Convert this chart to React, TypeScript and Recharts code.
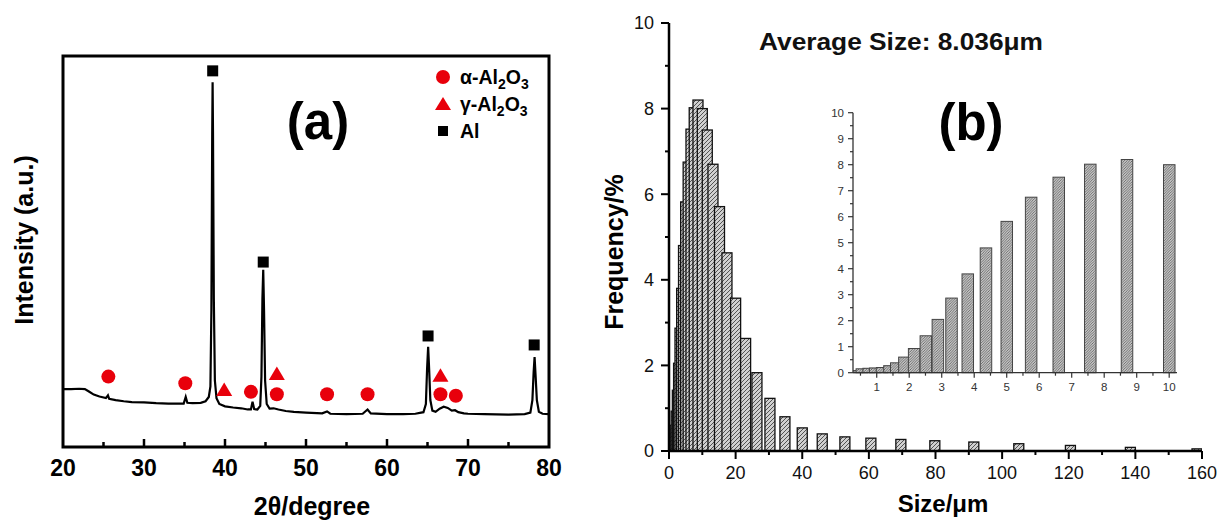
import React from 'react';
import { ComposedChart, Line, Scatter, XAxis, YAxis, ReferenceArea, BarChart, Bar } from 'recharts';

// ---------- (a) XRD pattern ----------
const twoTheta = [20.0, 21.0, 22.0, 22.7, 23.2, 23.8, 24.5, 25.3, 25.55, 25.7, 26.5, 27.5, 28.5, 30.0, 31.5, 33.0, 34.0, 34.9, 35.15, 35.35, 36.0, 37.0, 37.6, 38.0, 38.2, 38.32, 38.42, 38.47, 38.52, 38.62, 38.75, 38.95, 39.3, 40.0, 41.0, 42.0, 42.8, 43.2, 43.4, 43.6, 44.0, 44.35, 44.5, 44.62, 44.72, 44.82, 44.95, 45.15, 45.5, 46.0, 46.6, 47.5, 48.5, 50.0, 52.0, 52.6, 53.0, 55.0, 57.0, 57.6, 58.0, 60.0, 62.0, 63.5, 64.5, 64.8, 64.95, 65.08, 65.2, 65.35, 65.6, 66.0, 66.5, 67.0, 67.5, 68.0, 68.4, 68.8, 69.5, 70.0, 72.0, 75.0, 77.0, 77.7, 77.95, 78.1, 78.22, 78.35, 78.5, 78.75, 79.2, 80.0];
const intensity = [14.8, 14.8, 14.9, 14.8, 14.2, 13.4, 12.9, 12.5, 13.2, 12.3, 12.0, 11.7, 11.5, 11.4, 11.2, 11.1, 11.1, 11.1, 12.8, 11.3, 11.2, 11.3, 11.7, 12.8, 15.5, 35, 80, 93.3, 80, 38, 17, 12.5, 11.0, 10.4, 10.1, 9.9, 9.6, 9.6, 11.6, 9.7, 9.6, 10.5, 18, 38, 45.3, 35, 17, 11, 9.8, 9.9, 9.6, 9.2, 9.0, 8.8, 8.6, 9.1, 8.5, 8.4, 8.5, 9.6, 8.6, 8.4, 8.4, 8.5, 8.9, 11, 20, 25.6, 20, 12, 9.3, 9.0, 9.8, 10.3, 10.0, 9.3, 9.4, 8.9, 8.6, 8.5, 8.4, 8.3, 8.4, 8.8, 12, 19, 23.0, 18, 12, 9.0, 8.5, 8.4];

const alphaTheta = [25.6, 35.1, 43.2, 46.4, 52.6, 57.6, 66.6, 68.5];
const alphaMark = [18.0, 16.3, 14.1, 13.5, 13.5, 13.5, 13.5, 13.1];
const gammaTheta = [39.9, 46.4, 66.6];
const gammaMark = [14.6, 18.7, 18.2];
const alTheta = [38.48, 44.72, 65.07, 78.17];
const alMark = [96.2, 47.3, 28.4, 26.1];

const xrdTicks = [20, 25, 30, 35, 40, 45, 50, 55, 60, 65, 70, 75, 80];
const xrdLabels = [20, 30, 40, 50, 60, 70, 80];

// ---------- (b) size distribution ----------
const sizeUm = [0.39, 0.54, 0.75, 0.95, 1.16, 1.39, 1.6, 1.85, 2.15, 2.51, 2.88, 3.3, 3.8, 4.36, 5.0, 5.75, 6.6, 7.57, 8.7, 10.0, 11.49, 13.2, 15.16, 17.4, 20.0, 23.0, 26.4, 30.3, 34.8, 40.0, 46.0, 52.8, 60.6, 69.6, 79.8, 91.5, 105.0, 120.5, 138.5, 158.5];
const freqPct = [0.08, 0.15, 0.17, 0.18, 0.2, 0.27, 0.38, 0.6, 0.93, 1.42, 2.05, 2.87, 3.8, 4.8, 5.82, 6.75, 7.52, 8.02, 8.2, 8.0, 7.5, 6.7, 5.71, 4.63, 3.57, 2.63, 1.83, 1.23, 0.8, 0.54, 0.4, 0.33, 0.3, 0.27, 0.24, 0.21, 0.17, 0.13, 0.085, 0.05];

const sizeTicks = [0, 10, 20, 30, 40, 50, 60, 70, 80, 90, 100, 110, 120, 130, 140, 150, 160];
const sizeLabels = [0, 20, 40, 60, 80, 100, 120, 140, 160];
const freqTicks = [0, 1, 2, 3, 4, 5, 6, 7, 8, 9, 10];
const freqLabels = [0, 2, 4, 6, 8, 10];
const insetXTicks = [0.5, 1, 1.5, 2, 2.5, 3, 3.5, 4, 4.5, 5, 5.5, 6, 6.5, 7, 7.5, 8, 8.5, 9, 9.5, 10];
const insetXLabels = [1, 2, 3, 4, 5, 6, 7, 8, 9, 10];
const insetYTicks = [0, 0.5, 1, 1.5, 2, 2.5, 3, 3.5, 4, 4.5, 5, 5.5, 6, 6.5, 7, 7.5, 8, 8.5, 9, 9.5, 10];
const insetYLabels = [0, 1, 2, 3, 4, 5, 6, 7, 8, 9, 10];
const insetMax = 10.2;

const FONT = '"Liberation Sans", Arial, sans-serif';
const RED = '#e8000b';

const xrdData = twoTheta.map((t, i) => ({ x: t, v: intensity[i] }));
const alphaData = alphaTheta.map((t, i) => ({ x: t, v: alphaMark[i] }));
const gammaData = gammaTheta.map((t, i) => ({ x: t, v: gammaMark[i] }));
const alData = alTheta.map((t, i) => ({ x: t, v: alMark[i] }));
const sizeData = sizeUm.map((s, i) => ({ size: s, freq: freqPct[i] }));
const insetData = sizeData.filter((d) => d.size <= insetMax);

const has = (arr: number[], v: number) => arr.some((a) => Math.abs(a - v) < 1e-6);

type TickOpt = {
  labels: number[];
  dir: 'up' | 'down' | 'left';
  major: number;
  minor: number;
  font: number;
  weight: number | string;
  gap: number;
  color: string;
  stroke: string;
  sw: number;
  noLine?: number[];
};

const makeTick = (o: TickOpt) => (props: any) => {
  const { x, y, payload } = props;
  const v = payload.value;
  const isLab = has(o.labels, v);
  const len = isLab ? o.major : o.minor;
  const drawLine = !(o.noLine && has(o.noLine, v));
  let line = null;
  let text = null;
  if (o.dir === 'up' || o.dir === 'down') {
    const y2 = o.dir === 'up' ? y - len : y + len;
    if (drawLine) line = <line x1={x} x2={x} y1={y} y2={y2} stroke={o.stroke} strokeWidth={o.sw} />;
    if (isLab)
      text = (
        <text x={x} y={y + o.gap} textAnchor="middle" fontSize={o.font} fontWeight={o.weight} fontFamily={FONT} fill={o.color}>
          {v}
        </text>
      );
  } else {
    if (drawLine) line = <line x1={x} x2={x - len} y1={y} y2={y} stroke={o.stroke} strokeWidth={o.sw} />;
    if (isLab)
      text = (
        <text x={x - o.gap} y={y} dy="0.35em" textAnchor="end" fontSize={o.font} fontWeight={o.weight} fontFamily={FONT} fill={o.color}>
          {v}
        </text>
      );
  }
  return (
    <g>
      {line}
      {text}
    </g>
  );
};

const circleShape = (p: any) => <circle cx={p.cx} cy={p.cy} r={7} fill={RED} />;
const triShape = (p: any) => (
  <polygon points={`${p.cx},${p.cy - 7.5} ${p.cx + 8},${p.cy + 6} ${p.cx - 8},${p.cy + 6}`} fill={RED} />
);
const squareShape = (p: any) => <rect x={p.cx - 5.5} y={p.cy - 5.5} width={11} height={11} fill="#000" />;

const makeBar = (w: number, fill: string, stroke: string, sw: number) => (props: any) => {
  const { x, y, width, height } = props;
  if (x == null || y == null || !isFinite(height)) return <g />;
  const cx = x + width / 2;
  return <rect x={cx - w / 2} y={y} width={w} height={Math.max(height, 0)} fill={fill} stroke={stroke} strokeWidth={sw} />;
};

const mainBar = makeBar(10, 'url(#hatchMain)', '#111', 1.3);
const insetBar = makeBar(11.5, 'url(#hatchInset)', '#444', 1);

const Sub = ({ children }: { children: React.ReactNode }) => (
  <tspan dy={5} fontSize={14}>
    {children}
  </tspan>
);

export default function App() {
  return (
    <div style={{ position: 'absolute', left: 0, top: 0, width: 1217, height: 521, background: '#fff', fontFamily: FONT }}>
      <svg width={0} height={0} style={{ position: 'absolute' }}>
        <defs>
          <pattern id="hatchMain" patternUnits="userSpaceOnUse" width={4} height={4}>
            <rect width={4} height={4} fill="#d0d0d0" />
            <path d="M0,4 L4,0 M-1,1 L1,-1 M3,5 L5,3" stroke="#333" strokeWidth={0.8} />
          </pattern>
          <pattern id="hatchInset" patternUnits="userSpaceOnUse" width={2.6} height={2.6}>
            <rect width={2.6} height={2.6} fill="#c4c4c4" />
            <path d="M0,2.6 L2.6,0 M-1,1 L1,-1 M1.6,3.6 L3.6,1.6" stroke="#3a3a3a" strokeWidth={0.6} />
          </pattern>
        </defs>
      </svg>

      {/* (a) XRD */}
      <div style={{ position: 'absolute', left: 0, top: 0 }}>
        <ComposedChart width={600} height={521} data={xrdData} margin={{ top: 56, right: 51, bottom: 0, left: 63 }}>
          <XAxis
            type="number"
            dataKey="x"
            domain={[20, 80]}
            ticks={xrdTicks}
            interval={0}
            height={74}
            axisLine={false}
            tickLine={false}
            tickSize={0}
            tickMargin={0}
            tick={makeTick({ labels: xrdLabels, dir: 'up', major: 8, minor: 5, font: 23, weight: 'bold', gap: 29, color: '#000', stroke: '#000', sw: 2.5, noLine: [20, 80] })}
          />
          <YAxis type="number" domain={[0, 100]} hide />
          <ReferenceArea x1={20} x2={80} y1={0} y2={100} fill="none" stroke="#000" strokeWidth={3} ifOverflow="visible" />
          <Line type="linear" dataKey="v" stroke="#000" strokeWidth={2.2} dot={false} isAnimationActive={false} />
          <Scatter data={alphaData} dataKey="v" shape={circleShape} isAnimationActive={false} />
          <Scatter data={gammaData} dataKey="v" shape={triShape} isAnimationActive={false} />
          <Scatter data={alData} dataKey="v" shape={squareShape} isAnimationActive={false} />
        </ComposedChart>
      </div>

      {/* (b) main histogram */}
      <div style={{ position: 'absolute', left: 600, top: 0 }}>
        <BarChart width={617} height={521} data={sizeData} margin={{ top: 23, right: 15, bottom: 0, left: 0 }}>
          <XAxis
            type="number"
            dataKey="size"
            domain={[0, 160]}
            ticks={sizeTicks}
            interval={0}
            allowDataOverflow
            height={70}
            axisLine={{ stroke: '#000', strokeWidth: 2.5 }}
            tickLine={false}
            tickSize={0}
            tickMargin={0}
            tick={makeTick({ labels: sizeLabels, dir: 'down', major: 8, minor: 4, font: 18, weight: 'normal', gap: 28, color: '#111', stroke: '#000', sw: 2 })}
          />
          <YAxis
            type="number"
            domain={[0, 10]}
            ticks={freqTicks}
            interval={0}
            width={69}
            axisLine={{ stroke: '#000', strokeWidth: 2.5 }}
            tickLine={false}
            tickSize={0}
            tickMargin={0}
            tick={makeTick({ labels: freqLabels, dir: 'left', major: 8, minor: 4, font: 18, weight: 'normal', gap: 15, color: '#111', stroke: '#000', sw: 2 })}
          />
          <Bar dataKey="freq" shape={mainBar} isAnimationActive={false} />
        </BarChart>
      </div>

      {/* (b) inset */}
      <div style={{ position: 'absolute', left: 800, top: 90 }}>
        <BarChart width={400} height={320} data={insetData} margin={{ top: 22.7, right: 23, bottom: 0, left: 0 }}>
          <XAxis
            type="number"
            dataKey="size"
            domain={[0.27, 10.24]}
            ticks={insetXTicks}
            interval={0}
            allowDataOverflow
            height={37.3}
            axisLine={{ stroke: '#333', strokeWidth: 1.3 }}
            tickLine={false}
            tickSize={0}
            tickMargin={0}
            tick={makeTick({ labels: insetXLabels, dir: 'down', major: 5, minor: 3, font: 11.5, weight: 'normal', gap: 18, color: '#333', stroke: '#333', sw: 1.2 })}
          />
          <YAxis
            type="number"
            domain={[0, 10]}
            ticks={insetYTicks}
            interval={0}
            width={53}
            axisLine={{ stroke: '#333', strokeWidth: 1.3 }}
            tickLine={false}
            tickSize={0}
            tickMargin={0}
            tick={makeTick({ labels: insetYLabels, dir: 'left', major: 5, minor: 3, font: 11.5, weight: 'normal', gap: 9, color: '#333', stroke: '#333', sw: 1.2 })}
          />
          <Bar dataKey="freq" shape={insetBar} isAnimationActive={false} />
        </BarChart>
      </div>

      {/* texts */}
      <svg width={1217} height={521} style={{ position: 'absolute', left: 0, top: 0, pointerEvents: 'none' }} fontFamily={FONT}>
        <text x={24} y={240} transform="rotate(-90 24 240)" textAnchor="middle" dy="0.35em" fontSize={25} fontWeight="bold" fill="#000">
          Intensity (a.u.)
        </text>
        <text x={312} y={515} textAnchor="middle" fontSize={25} fontWeight="bold" fill="#000">
          2θ/degree
        </text>
        <text x={318} y={139} textAnchor="middle" fontSize={51} fontWeight="bold" fill="#000">
          (a)
        </text>

        <circle cx={443} cy={77} r={7} fill={RED} />
        <text x={460} y={84} fontSize={19.5} fontWeight="bold" fill="#000">
          α-Al<Sub>2</Sub>
          <tspan dy={-5}>O</tspan>
          <Sub>3</Sub>
        </text>
        <polygon points="443,97 451,110 435,110" fill={RED} />
        <text x={460} y={111} fontSize={19.5} fontWeight="bold" fill="#000">
          γ-Al<Sub>2</Sub>
          <tspan dy={-5}>O</tspan>
          <Sub>3</Sub>
        </text>
        <rect x={438} y={126} width={10} height={10} fill="#000" />
        <text x={460} y={138} fontSize={19.5} fontWeight="bold" fill="#000">
          Al
        </text>

        <text x={614} y={252} transform="rotate(-90 614 252)" textAnchor="middle" dy="0.35em" fontSize={25} fontWeight="bold" fill="#000">
          Frequency/%
        </text>
        <text x={943} y={512} textAnchor="middle" fontSize={24} fontWeight="bold" fill="#000">
          Size/μm
        </text>
        <text x={901} y={50} textAnchor="middle" fontSize={24} fontWeight="bold" fill="#111" textLength={284} lengthAdjust="spacingAndGlyphs">
          Average Size: 8.036μm
        </text>
        <text x={971} y={140} textAnchor="middle" fontSize={51} fontWeight="bold" fill="#000">
          (b)
        </text>
      </svg>
    </div>
  );
}
